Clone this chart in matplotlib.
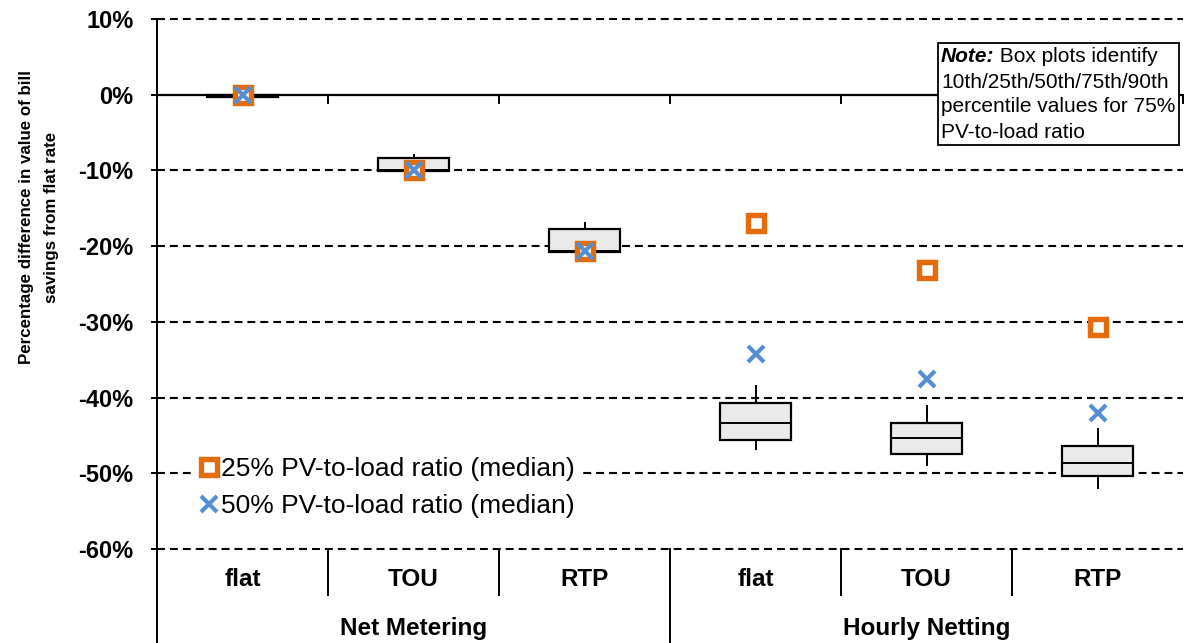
import matplotlib
matplotlib.use("Agg")
import matplotlib.pyplot as plt
from matplotlib.patches import Rectangle
from matplotlib.text import Annotation
from matplotlib.ticker import FuncFormatter

plt.rcParams["font.family"] = ["Liberation Sans", "DejaVu Sans"]

# Data (percent difference in value of bill savings vs. flat rate)
categories = ["flat", "TOU", "RTP", "flat", "TOU", "RTP"]
groups = ["Net Metering", "Hourly Netting"]
p10 = [-0.3, -10.2, -21.0, -46.8, -48.9, -52.0]
p25 = [-0.25, -10.1, -20.8, -45.6, -47.4, -50.4]
p50 = [-0.1, -10.0, -20.6, -43.3, -45.4, -48.7]
p75 = [0.0, -8.4, -17.8, -40.7, -43.3, -46.4]
p90 = [0.0, -8.0, -16.9, -38.5, -41.1, -44.2]
pv25_median = [0.0, -9.9, -20.7, -16.9, -23.2, -30.7]
pv50_median = [0.0, -9.9, -20.7, -34.3, -37.6, -42.0]
y_ticks = [10, 0, -10, -20, -30, -40, -50, -60]

orange = "#E46C0A"
blue = "#558ED5"

fig = plt.figure(figsize=(11.9, 6.43), dpi=100)
ax = fig.add_axes([157 / 1190, 1 - 549 / 643, (1183 - 157) / 1190, (549 - 19) / 643])

pos = list(range(len(categories)))
ax.set_xlim(-0.5, len(categories) - 0.5)
ax.set_ylim(-60, 10)

# dashed gridlines (0% is the solid category axis)
dash = (0, (3.8, 2.4))
for yv in y_ticks:
    if yv == 0:
        continue
    ax.axhline(yv, color="black", lw=1.5, ls=dash, zorder=1, clip_on=False)
ax.axhline(0, color="black", lw=1.6, zorder=2)

# box plots (10/25/50/75/90 percentiles)
stats = []
for i in pos:
    stats.append({"whislo": p10[i], "q1": p25[i], "med": p50[i],
                  "q3": p75[i], "whishi": p90[i], "fliers": []})
ax.bxp(stats, positions=pos, widths=0.41, patch_artist=True, showcaps=False,
       boxprops=dict(facecolor="#EAEAEA", edgecolor="black", linewidth=1.6),
       medianprops=dict(color="black", linewidth=1.4),
       whiskerprops=dict(color="black", linewidth=1.4),
       manage_ticks=False, zorder=3)

ax.plot(pos, pv25_median, ls="none", marker="s", ms=12, mfc="white",
        mec=orange, mew=3.9, zorder=5, label="25% PV-to-load ratio (median)")
ax.plot(pos, pv50_median, ls="none", marker="x", ms=11, mec=blue,
        mew=3, zorder=6, label="50% PV-to-load ratio (median)")

# axes styling
for s in ["top", "right", "bottom"]:
    ax.spines[s].set_visible(False)
ax.spines["left"].set_linewidth(1.4)
ax.spines["left"].set_bounds(-60, 10)
ax.set_yticks(y_ticks)
ax.yaxis.set_major_formatter(FuncFormatter(lambda v, p: f"{v:.0f}%"))
ax.tick_params(axis="y", direction="out", length=4, width=1.4, pad=13,
               labelsize=17)
for t in ax.get_yticklabels():
    t.set_fontweight("bold")
ax.set_xticks([])

trans = ax.get_xaxis_transform()
y_bottom = (549 - 643) / 530
y_div = (549 - 595) / 530
# left spine extension down to the bottom
ax.plot([-0.5, -0.5], [0, y_bottom], transform=trans, color="black", lw=1.4,
        clip_on=False)
# small ticks on the 0% axis
for b in [0.5, 1.5, 2.5, 3.5, 4.5, 5.5]:
    ax.plot([b, b], [0, -1.1], color="black", lw=1.4, clip_on=False, zorder=2)
# category dividers
for b in [0.5, 1.5, 3.5, 4.5]:
    ax.plot([b, b], [0, y_div], transform=trans, color="black", lw=1.4,
            clip_on=False)
ax.plot([2.5, 2.5], [0, y_bottom], transform=trans, color="black", lw=1.4,
        clip_on=False)

for i, c in enumerate(categories):
    ax.text(i, (549 - 580) / 530, c, transform=trans, ha="center", va="center",
            fontsize=17.5, fontweight="bold")
for g, x in zip(groups, [1, 4]):
    ax.text(x, (549 - 628) / 530, g, transform=trans, ha="center",
            va="center", fontsize=17.5, fontweight="bold")

fig.text(39 / 1190, 1 - 217 / 643,
         "Percentage difference in value of bill\nsavings from flat rate",
         rotation=90, ha="center", va="center", fontsize=12.2,
         fontweight="bold", linespacing=1.8)

# legend (white background hides the gridline behind it)
leg = ax.legend(loc="upper left", bbox_to_anchor=(0.028, (549 - 441) / 530),
                frameon=True, fontsize=19, handlelength=0.6,
                handletextpad=0.15, labelspacing=0.5, borderaxespad=0.3,
                borderpad=0.3)
leg.get_frame().set_facecolor("white")
leg.get_frame().set_edgecolor("none")
leg.get_frame().set_alpha(1)
leg.set_zorder(4)

# note box
fig.patches.append(Rectangle((938 / 1190, 1 - 145 / 643), (1179 - 938) / 1190,
                             (145 - 43) / 643, transform=fig.transFigure,
                             facecolor="white", edgecolor="black", lw=1.3,
                             zorder=7))
note_head = fig.text(941 / 1190, 1 - 57 / 643, "Note:", ha="left",
                     va="center", fontsize=15, fontweight="bold",
                     style="italic", zorder=8)
fig.add_artist(Annotation(" Box plots identify", xy=(1, 0),
                          xycoords=note_head, ha="left", va="bottom",
                          fontsize=15, zorder=8, annotation_clip=False))
note_lines = ["10th/25th/50th/75th/90th", "percentile values for 75%",
              "PV-to-load ratio"]
for k, line in enumerate(note_lines):
    fig.text(941 / 1190, 1 - (82 + 25 * k) / 643, line, ha="left",
             va="center", fontsize=15, zorder=8)

fig.savefig("out.png", dpi=100)
